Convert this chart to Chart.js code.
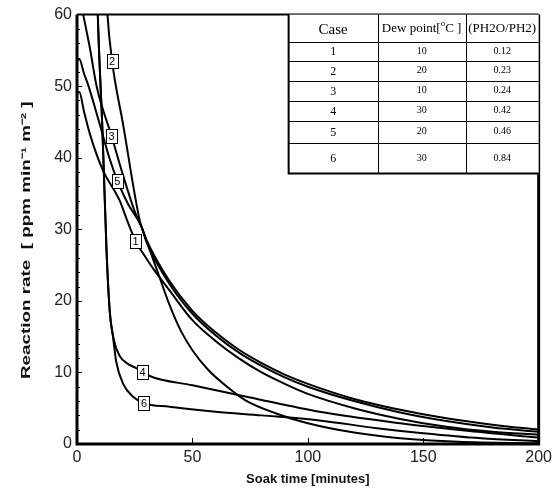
<!DOCTYPE html>
<html>
<head>
<meta charset="utf-8">
<script src="https://cdn.jsdelivr.net/npm/chart.js@4.4.1/dist/chart.umd.min.js"></script>
<style>
  html, body { margin: 0; padding: 0; background: #fff; }
</style>
</head>
<body>
<canvas id="rateChart" width="556" height="489"></canvas>
<script>
// values: soak time [min] -> reaction rate
const time1 = [0, 1, 3, 5.6, 11, 18.5, 22, 25.4, 29.3, 33, 40, 50, 60, 70, 80, 90, 100, 120, 140, 160, 180, 200];
const rate1 = [49, 49.2, 46.5, 43.3, 38.4, 34, 31, 28.3, 26.3, 24.5, 21.5, 17.3, 14.4, 12.0, 10.0, 8.4, 7.0, 5.0, 3.5, 2.4, 1.7, 1.3];

const time2 = [12.6, 13.2, 15.2, 20, 27.2, 28.6, 35, 40, 45, 50, 57, 65, 73, 86, 100, 120, 140, 165, 200];
const rate2 = [64, 60, 53.5, 44.6, 31.2, 29.8, 24, 19.5, 15.8, 13.1, 10.3, 8.0, 6.1, 4.3, 2.9, 1.6, 0.8, 0.3, 0.1];

const time3 = [1.5, 2.7, 5.6, 8.5, 15, 20, 25, 28, 30, 40, 50, 60, 70, 80, 90, 100, 120, 140, 160, 180, 200];
const rate3 = [62, 60, 55.3, 50, 43, 37.5, 32.5, 30.3, 28.6, 22.8, 18.6, 15.6, 13.2, 11.3, 9.7, 8.4, 6.3, 4.8, 3.6, 2.7, 2.0];

const time4 = [8.7, 9, 11, 12.8, 14.2, 16, 18.5, 22, 25, 28.4, 31.5, 50, 75, 105, 140, 170, 200];
const rate4 = [64, 60, 44, 27, 18.5, 14.5, 12.3, 11.2, 10.7, 10.1, 9.5, 8.2, 6.5, 4.5, 2.9, 1.8, 0.9];

const time5 = [0, 1, 3, 5, 10, 14, 17.5, 22, 28, 30, 40, 50, 60, 70, 80, 90, 100, 120, 140, 160, 180, 200];
const rate5 = [53.5, 53.8, 51.8, 50, 44.5, 40, 36.8, 33.6, 30.3, 28.3, 22.4, 18.2, 15.2, 12.8, 10.9, 9.3, 8.0, 6.0, 4.4, 3.2, 2.3, 1.7];

const time6 = [8.7, 9, 11, 12.8, 14.2, 15.6, 17, 20, 24.3, 29, 40, 60, 80, 105, 130, 150, 175, 200];
const rate6 = [64, 60, 44, 27, 18.5, 15, 11.5, 8.4, 6.6, 5.7, 5.2, 4.5, 4.0, 3.3, 2.2, 1.5, 0.8, 0.4];

const caseNames = ["1", "2", "3", "4", "5", "6"];
const dewPoints = ["10", "20", "10", "30", "20", "30"];
const pressureRatios = ["0.12", "0.23", "0.24", "0.42", "0.46", "0.84"];

// where each case number sits on its curve
const labelTimes = [25.4, 15.2, 15, 28.4, 17.5, 29];
const labelRates = [28.3, 53.5, 43, 10.1, 36.8, 5.7];

const xTicks = [0, 50, 100, 150, 200];
const yTicks = [0, 10, 20, 30, 40, 50, 60];
const yTitle = "Reaction rate  [ ppm min\u207B\u00B9 m\u207B\u00B2 ]";

const allTimes = [time1, time2, time3, time4, time5, time6];
const allRates = [rate1, rate2, rate3, rate4, rate5, rate6];

const datasets = allTimes.map((t, i) => ({
  label: "Case " + caseNames[i],
  data: t.map((x, j) => ({ x: x, y: allRates[i][j] })),
  borderColor: "#000",
  borderWidth: 2,
  pointRadius: 0,
  fill: false,
  cubicInterpolationMode: "monotone",
}));

// frame, inner ticks, curve labels, y title and the table
const decorPlugin = {
  id: "decor",
  afterDatasetsDraw(chart) {
    const ctx = chart.ctx;
    const a = chart.chartArea;
    const xs = chart.scales.x;
    const ys = chart.scales.y;
    ctx.save();

    // inner ticks
    ctx.strokeStyle = "#000";
    ctx.lineWidth = 1;
    for (let v = 2; v < 60; v += 2) {
      const py = Math.round(ys.getPixelForValue(v)) + 0.5;
      const len = v % 10 === 0 ? 5 : 3;
      ctx.beginPath();
      ctx.moveTo(a.left, py);
      ctx.lineTo(a.left + len, py);
      ctx.stroke();
    }
    xTicks.slice(1, -1).forEach((v) => {
      const px = Math.round(xs.getPixelForValue(v)) + 0.5;
      ctx.beginPath();
      ctx.moveTo(px, a.bottom);
      ctx.lineTo(px, a.bottom - 6);
      ctx.stroke();
    });

    // plot frame
    ctx.lineWidth = 3;
    ctx.beginPath();
    ctx.moveTo(a.left, a.top);
    ctx.lineTo(a.left, a.bottom);
    ctx.lineTo(a.right, a.bottom);
    ctx.lineTo(a.right, a.top);
    ctx.stroke();
    ctx.lineWidth = 2;
    ctx.beginPath();
    ctx.moveTo(a.left, a.top);
    ctx.lineTo(a.right, a.top);
    ctx.stroke();

    // y title, stretched along the axis like the scanned original
    ctx.save();
    ctx.translate(26, (a.top + a.bottom) / 2 + 11);
    ctx.rotate(-Math.PI / 2);
    ctx.scale(1.45, 1);
    ctx.font = "bold 13px 'Liberation Sans'";
    ctx.fillStyle = "#111";
    ctx.textAlign = "center";
    ctx.textBaseline = "middle";
    ctx.fillText(yTitle, 0, 0);
    ctx.restore();

    // case labels on curves
    ctx.font = "11px 'Liberation Sans'";
    ctx.textAlign = "center";
    ctx.textBaseline = "middle";
    caseNames.forEach((name, i) => {
      const px = xs.getPixelForValue(labelTimes[i]);
      const py = ys.getPixelForValue(labelRates[i]);
      const w = 11, h = 14;
      const bx = Math.round(px - w / 2) + 0.5;
      const by = Math.round(py - h / 2) + 0.5;
      ctx.fillStyle = "#fff";
      ctx.fillRect(bx, by, w, h);
      ctx.lineWidth = 1;
      ctx.strokeStyle = "#000";
      ctx.strokeRect(bx, by, w, h);
      ctx.fillStyle = "#000";
      ctx.fillText(name, px, py + 1);
    });

    // table in upper right
    const cols = [a.right - 250, a.right - 161, a.right - 73, a.right];
    const rows = [0, 27, 46, 66, 86, 106, 128, 159].map((r) => a.top + r);
    ctx.fillStyle = "#fff";
    ctx.fillRect(cols[0], rows[0], cols[3] - cols[0], rows[7] - rows[0]);
    ctx.strokeStyle = "#000";
    ctx.lineWidth = 1;
    for (let r = 1; r < 7; r++) {
      ctx.beginPath();
      ctx.moveTo(cols[0], Math.round(rows[r]) + 0.5);
      ctx.lineTo(cols[3], Math.round(rows[r]) + 0.5);
      ctx.stroke();
    }
    for (let c = 1; c < 3; c++) {
      ctx.beginPath();
      ctx.moveTo(Math.round(cols[c]) + 0.5, rows[0]);
      ctx.lineTo(Math.round(cols[c]) + 0.5, rows[7]);
      ctx.stroke();
    }
    ctx.lineWidth = 2;
    ctx.beginPath();
    ctx.moveTo(cols[0], rows[0]);
    ctx.lineTo(cols[0], rows[7]);
    ctx.lineTo(cols[3], rows[7]);
    ctx.stroke();

    const mid = (c) => (cols[c] + cols[c + 1]) / 2;
    const rowMid = (r) => (rows[r] + rows[r + 1]) / 2;
    ctx.fillStyle = "#000";
    ctx.textAlign = "center";
    ctx.textBaseline = "middle";
    ctx.font = "15px 'Liberation Serif'";
    ctx.fillText("Case", mid(0), rowMid(0) + 2);

    // "Dew point[°C ]" with raised small o
    const p1 = "Dew point[", p3 = "C ]";
    ctx.font = "9px 'Liberation Serif'";
    const wo = ctx.measureText("o").width;
    ctx.font = "13px 'Liberation Serif'";
    const w1 = ctx.measureText(p1).width, w3 = ctx.measureText(p3).width;
    const sx = mid(1) - (w1 + wo + w3) / 2;
    ctx.textAlign = "left";
    ctx.fillText(p1, sx, rowMid(0));
    ctx.font = "9px 'Liberation Serif'";
    ctx.fillText("o", sx + w1, rowMid(0) - 4);
    ctx.font = "13px 'Liberation Serif'";
    ctx.fillText(p3, sx + w1 + wo, rowMid(0));
    ctx.textAlign = "center";
    ctx.fillText("(PH2O/PH2)", mid(2), rowMid(0));

    for (let r = 0; r < 6; r++) {
      const cy = rowMid(r + 1) + 1;
      ctx.font = "12px 'Liberation Serif'";
      ctx.fillText(caseNames[r], mid(0), cy);
      ctx.font = "10px 'Liberation Serif'";
      ctx.fillText(dewPoints[r], mid(1), cy - 1);
      ctx.fillText(pressureRatios[r], mid(2), cy - 1);
    }
    ctx.restore();
  },
};

new Chart(document.getElementById("rateChart"), {
  type: "line",
  data: { datasets: datasets },
  options: {
    responsive: false,
    animation: false,
    layout: { padding: { top: 13, right: 15, left: 0, bottom: 0 } },
    plugins: { legend: { display: false }, tooltip: { enabled: false } },
    scales: {
      x: {
        type: "linear",
        min: 0,
        max: 200,
        afterBuildTicks: (s) => { s.ticks = xTicks.map((v) => ({ value: v })); },
        afterFit: (s) => { s.height = 45; },
        grid: { display: false, drawTicks: false },
        border: { display: false },
        ticks: { padding: 4, color: "#222", font: { family: "'Liberation Sans'", size: 16 } },
        title: {
          display: true,
          text: "Soak time [minutes]",
          color: "#111",
          padding: { top: 0, bottom: 2 },
          font: { family: "'Liberation Sans'", size: 13, weight: "bold" },
        },
      },
      y: {
        min: 0,
        max: 60,
        afterBuildTicks: (s) => { s.ticks = yTicks.map((v) => ({ value: v })); },
        afterFit: (s) => { s.width = 77; },
        grid: { display: false, drawTicks: false },
        border: { display: false },
        ticks: { padding: 5, color: "#222", font: { family: "'Liberation Sans'", size: 16 } },
      },
    },
  },
  plugins: [decorPlugin],
});
</script>
</body>
</html>
